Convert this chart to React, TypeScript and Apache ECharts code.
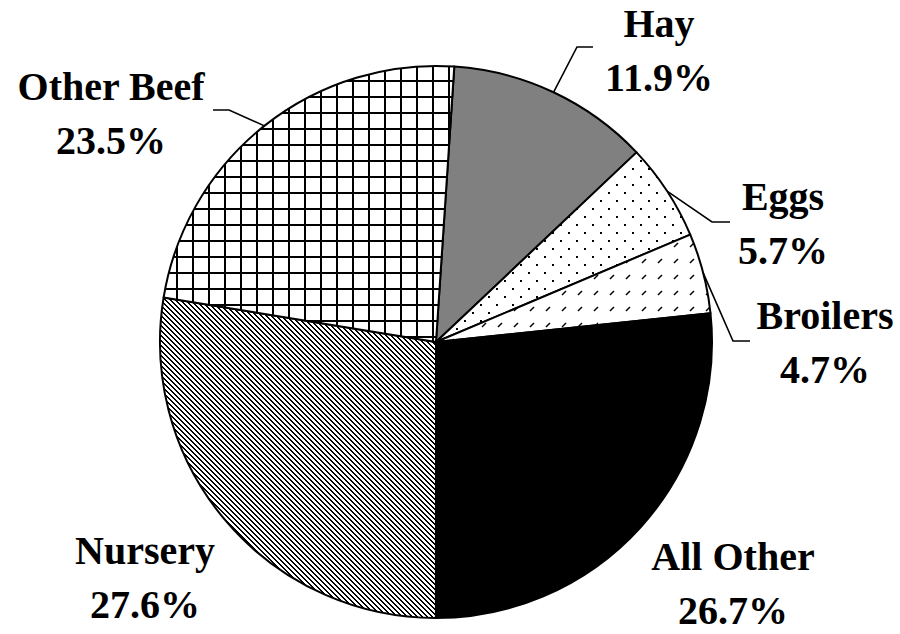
import React, { useEffect, useRef } from "react";
import * as echarts from "echarts";

const categories = ["Hay", "Eggs", "Broilers", "All Other", "Nursery", "Other Beef"];
const shares = [11.9, 5.7, 4.7, 26.7, 27.6, 23.5];

function makeTile(size: number, draw: (ctx: CanvasRenderingContext2D) => void) {
  const c = document.createElement("canvas");
  c.width = size;
  c.height = size;
  const ctx = c.getContext("2d")!;
  ctx.fillStyle = "#fff";
  ctx.fillRect(0, 0, size, size);
  ctx.fillStyle = "#000";
  ctx.strokeStyle = "#000";
  draw(ctx);
  return { image: c.toDataURL(), repeat: "repeat", imageWidth: size, imageHeight: size };
}

export default function App() {
  const ref = useRef<HTMLDivElement>(null);
  useEffect(() => {
    if (!ref.current) return;
    const chart = echarts.init(ref.current, null, { renderer: "svg" });

    const dots = makeTile(16, (ctx) => {
      ctx.fillRect(0, 0, 2, 2);
      ctx.fillRect(8, 8, 2, 2);
    });
    const dashes = makeTile(16, (ctx) => {
      ctx.lineWidth = 1.4;
      ctx.beginPath();
      ctx.moveTo(2, 7);
      ctx.lineTo(6, 3);
      ctx.stroke();
    });
    const diag = makeTile(5, (ctx) => {
      for (let y = 0; y < 5; y++)
        for (let x = 0; x < 5; x++) {
          const d = (((x - y) % 5) + 5) % 5;
          if (d < 2) ctx.fillRect(x, y, 1, 1);
        }
    });
    const grid = makeTile(16, (ctx) => {
      ctx.fillRect(0, 0, 2, 16);
      ctx.fillRect(0, 0, 16, 2);
    });

    const fills: any[] = ["#808080", dots, dashes, "#000000", diag, grid];

    const labelFont = {
      fontFamily: "'Liberation Serif', 'Times New Roman', serif",
      fontWeight: "bold" as const,
      fontSize: 40,
      color: "#000",
    };

    // label block centres and leader-line points (pixels)
    const labelPos: Record<string, { x: number; y: number; line?: number[][] }> = {
      Hay: { x: 659, y: 50, line: [[577, 47], [593, 47]] },
      Eggs: { x: 783, y: 223, line: [[712, 222], [730, 222]] },
      Broilers: { x: 825, y: 342, line: [[733, 341], [750, 341]] },
      "All Other": { x: 733, y: 576 },
      Nursery: { x: 145, y: 577 },
      "Other Beef": { x: 111, y: 113, line: [[229, 110], [213, 110]] },
    };

    const data = categories.map((name, i) => {
      const hasLine = !!labelPos[name].line;
      const item: any = {
        name,
        value: shares[i],
        itemStyle: { color: fills[i] },
        labelLine: { show: hasLine },
      };
      if (name === "All Other") {
        item.label = {
          formatter: (p: any) => `{a|${p.name}}\n{b|${p.value.toFixed(1)}%}`,
          rich: {
            a: { ...labelFont, lineHeight: 68, align: "center" },
            b: { ...labelFont, lineHeight: 40, align: "center" },
          },
        };
      }
      return item;
    });

    chart.setOption({
      animation: false,
      backgroundColor: "#ffffff",
      series: [
        {
          type: "pie",
          center: [436, 342],
          radius: 276,
          startAngle: 86.2,
          clockwise: true,
          avoidLabelOverlap: false,
          data,
          itemStyle: { borderColor: "#000", borderWidth: 2 },
          emphasis: { disabled: true },
          label: {
            show: true,
            position: "outside",
            formatter: (p: any) => `${p.name}\n${p.value.toFixed(1)}%`,
            ...labelFont,
            lineHeight: 54,
            align: "center",
          },
          labelLine: {
            show: true,
            length: 20,
            length2: 20,
            lineStyle: { color: "#000", width: 1.6 },
          },
          labelLayout: (params: any) => {
            const name = categories[params.dataIndex];
            const pos = labelPos[name];
            const res: any = {
              x: pos.x,
              y: pos.y,
              align: "center",
              verticalAlign: "middle",
            };
            if (pos.line && params.labelLinePoints && params.labelLinePoints.length) {
              res.labelLinePoints = [params.labelLinePoints[0], pos.line[0], pos.line[1]];
            }
            return res;
          },
        },
      ],
    });
    return () => chart.dispose();
  }, []);
  return (
    <div
      ref={ref}
      style={{ position: "fixed", left: 0, top: 0, width: 900, height: 634, background: "#fff" }}
    />
  );
}
